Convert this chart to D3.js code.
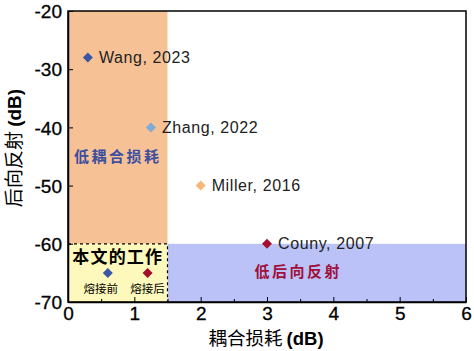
<!DOCTYPE html>
<html><head><meta charset="utf-8">
<script src="https://cdn.jsdelivr.net/npm/d3@7"></script>
<style>body{margin:0;background:#fff}</style>
</head><body><svg id="c" width="474" height="351"></svg>
<script>
const names = ["Wang, 2023","Zhang, 2022","Miller, 2016","Couny, 2007"];
const lossValues = [0.3, 1.25, 2.0, 3.0];
const reflValues = [-28, -40, -50, -60];
const pointColors = ["#3a55a5","#7fa9d6","#f6b878","#a3102f"];
const ourLabels = ["熔接前","熔接后"];
const ourLoss = [0.6, 1.2];
const ourRefl = [-65, -65];
const ourColors = ["#3a55a5","#a3102f"];
const xTicks = [0,1,2,3,4,5,6];
const yTicks = [-70,-60,-50,-40,-30,-20];
const lossLimit = 1.5, reflLimit = -60;

const svg = d3.select("#c");
const m = {l:68, r:466, t:11, b:302};
const x = d3.scaleLinear().domain([0,6]).range([m.l, m.r]);
const y = d3.scaleLinear().domain([-70,-20]).range([m.b, m.t]);

// regions
svg.append("rect").attr("x",x(0)).attr("y",y(-20)).attr("width",x(lossLimit)-x(0)).attr("height",y(reflLimit)-y(-20)).attr("fill","#f7c196");
svg.append("rect").attr("x",x(lossLimit)).attr("y",y(reflLimit)).attr("width",x(6)-x(lossLimit)).attr("height",y(-70)-y(reflLimit)).attr("fill","#bac2f8");
svg.append("rect").attr("x",x(0)).attr("y",y(reflLimit)).attr("width",x(lossLimit)-x(0)).attr("height",y(-70)-y(reflLimit)).attr("fill","#fdf8bb");
svg.append("path").attr("d",`M${x(0)},${y(reflLimit)}H${x(lossLimit)}V${y(-70)}`).attr("fill","none").attr("stroke","#000").attr("stroke-width",1.2).attr("stroke-dasharray","3,3");

// axes
const font = "'Liberation Sans', Arial, sans-serif";
const cjk = "'Noto Sans CJK SC', sans-serif";
const fmt = d => String(d);
const xa = svg.append("g").attr("transform",`translate(0,${m.b})`).call(d3.axisBottom(x).tickValues(xTicks).tickSizeInner(-5).tickSizeOuter(0).tickPadding(5).tickFormat(fmt));
const xm = svg.append("g").attr("transform",`translate(0,${m.b})`).call(d3.axisBottom(x).tickValues(d3.range(0.5,6,1)).tickSize(-3).tickFormat(""));
xm.select(".domain").remove();
const ya = svg.append("g").attr("transform",`translate(${m.l},0)`).call(d3.axisLeft(y).tickValues(yTicks).tickSizeInner(-5).tickSizeOuter(0).tickPadding(6).tickFormat(fmt));
[xa,ya].forEach(a=>{a.selectAll("text").attr("font-family",font).attr("font-size",19).attr("fill","#000").attr("stroke","#000").attr("stroke-width",0.3);
  a.select(".domain").attr("stroke-width",1.5);});
xa.selectAll("text").attr("dy","0.7em");
ya.selectAll("text").attr("dy","0.35em");
svg.append("rect").attr("x",m.l).attr("y",m.t).attr("width",m.r-m.l).attr("height",m.b-m.t).attr("fill","none").attr("stroke","#000").attr("stroke-width",1.5);

// titles
const xt = svg.append("text").attr("x",266).attr("y",345).attr("text-anchor","middle").attr("font-size",18.5);
xt.append("tspan").attr("font-family",cjk).text("耦合损耗 ");
xt.append("tspan").attr("font-family",font).attr("font-weight","bold").text("(dB)");
const yt = svg.append("text").attr("transform","translate(21,148) rotate(-90)").attr("text-anchor","middle").attr("font-size",19);
yt.append("tspan").attr("font-family",cjk).text("后向反射 ");
yt.append("tspan").attr("font-family",font).attr("font-weight","bold").text("(dB)");

const diamond = d3.symbol().type(d3.symbolDiamond2).size(64);
// literature points
names.forEach((n,i)=>{
  svg.append("path").attr("d",diamond).attr("transform",`translate(${x(lossValues[i])},${y(reflValues[i])})`).attr("fill",pointColors[i]);
  svg.append("text").attr("x",x(lossValues[i])+11).attr("y",y(reflValues[i])).attr("dy","0.33em").attr("font-family",font).attr("font-size",16).attr("letter-spacing",0.6).attr("fill","#222").text(n);
});
// our work
const ourShift = [-7, 0];
ourLabels.forEach((n,i)=>{
  svg.append("path").attr("d",diamond).attr("transform",`translate(${x(ourLoss[i])},${y(ourRefl[i])})`).attr("fill",ourColors[i]);
  svg.append("text").attr("x",x(ourLoss[i])+ourShift[i]).attr("y",y(ourRefl[i])+16).attr("dy","0.35em").attr("text-anchor","middle").attr("font-family",cjk).attr("font-size",11.5).text(n);
});
svg.append("text").attr("x",x(0.75)).attr("y",257).attr("dy","0.35em").attr("text-anchor","middle").attr("font-family",cjk).attr("font-weight","bold").attr("font-size",17).attr("letter-spacing",1.2).text("本文的工作");
svg.append("text").attr("x",x(0.75)).attr("y",157).attr("dy","0.35em").attr("text-anchor","middle").attr("font-family",cjk).attr("font-weight","bold").attr("font-size",15).attr("letter-spacing",2.5).attr("fill","#3c4fa0").text("低耦合损耗");
svg.append("text").attr("x",x(3.47)).attr("y",272).attr("dy","0.35em").attr("text-anchor","middle").attr("font-family",cjk).attr("font-weight","bold").attr("font-size",15).attr("letter-spacing",2.5).attr("fill","#a0103a").text("低后向反射");
</script></body></html>
